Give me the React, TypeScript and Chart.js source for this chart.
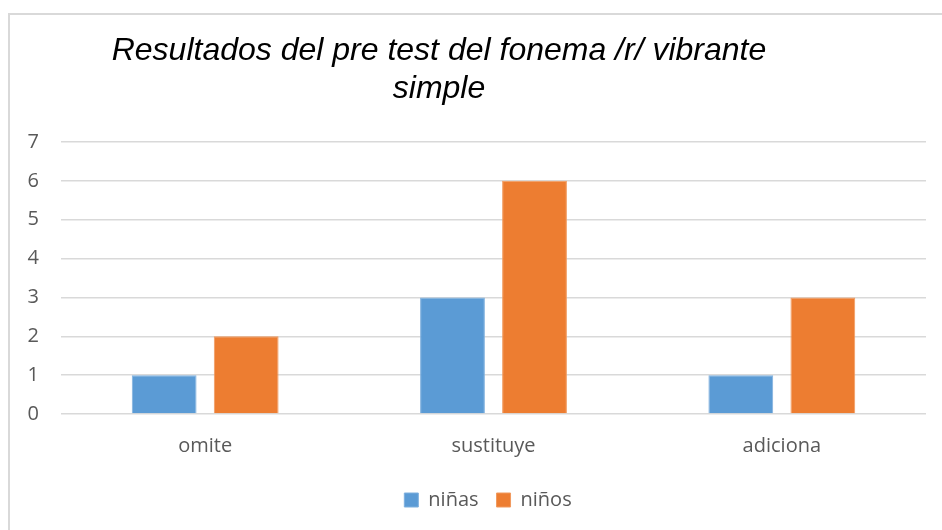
import React, { useEffect, useRef } from "react";
import { Chart, registerables } from "chart.js";

Chart.register(...registerables);

const titleLines = ["Resultados del pre test del fonema /r/ vibrante", "simple"];
const categories = ["omite", "sustituye", "adiciona"];
const seriesNames = ["niñas", "niños"];
const ninasValues = [1, 3, 1];
const ninosValues = [2, 6, 3];
const yTicks = [0, 1, 2, 3, 4, 5, 6, 7];

const FONT = "'Open Sans', 'DejaVu Sans', sans-serif";

const framePlugin = {
  id: "frameAndTitle",
  afterLayout(chart: any) {
    const lg = chart.legend;
    if (lg) {
      lg.left += 25;
      lg.right += 25;
    }
  },
  beforeDraw(chart: any) {
    const ctx = chart.ctx;
    ctx.save();
    ctx.fillStyle = "#ffffff";
    ctx.fillRect(0, 0, chart.width, chart.height);
    ctx.strokeStyle = "#d9d9d9";
    ctx.lineWidth = 2;
    ctx.beginPath();
    ctx.moveTo(9, chart.height + 2);
    ctx.lineTo(9, 14);
    ctx.lineTo(chart.width + 2, 14);
    ctx.stroke();
    ctx.restore();
  },
  afterDraw(chart: any) {
    const ctx = chart.ctx;
    ctx.save();
    ctx.fillStyle = "#000000";
    ctx.font = "italic 32px 'Liberation Sans', Arial, sans-serif";
    ctx.textAlign = "center";
    ctx.textBaseline = "middle";
    const cx = 439;
    titleLines.forEach((line, i) => {
      ctx.fillText(line, cx, 51 + i * 38);
    });
    ctx.restore();
  },
};

export default function App() {
  const ref = useRef<HTMLCanvasElement | null>(null);
  useEffect(() => {
    if (!ref.current) return;
    const chart = new Chart(ref.current, {
      type: "bar",
      data: {
        labels: categories,
        datasets: [
          {
            label: seriesNames[0],
            data: ninasValues,
            backgroundColor: "#5B9BD5",
            borderColor: "#7fb0de",
            borderWidth: 1,
            categoryPercentage: 0.569,
            barPercentage: 0.79,
          },
          {
            label: seriesNames[1],
            data: ninosValues,
            backgroundColor: "#ED7D31",
            borderColor: "#f19a5e",
            borderWidth: 1,
            categoryPercentage: 0.569,
            barPercentage: 0.79,
          },
        ],
      },
      options: {
        animation: false,
        responsive: false,
        maintainAspectRatio: false,
        devicePixelRatio: 1,
        layout: { padding: { top: 142, right: 16, bottom: 10, left: 0 } },
        plugins: {
          title: { display: false },
          tooltip: { enabled: false },
          legend: {
            display: true,
            position: "bottom",
            labels: {
              boxWidth: 14,
              boxHeight: 14,
              padding: 18,
              color: "#595959",
              font: { family: FONT, size: 20 },
            },
          },
        },
        scales: {
          x: {
            grid: { display: false, drawTicks: false },
            border: { display: false },
            ticks: {
              color: "#595959",
              font: { family: FONT, size: 20 },
              padding: 20,
            },
            afterFit(scale: any) {
              scale.height = 58;
            },
          },
          y: {
            min: 0,
            max: 7,
            afterBuildTicks(scale: any) {
              scale.ticks = yTicks.map((v) => ({ value: v }));
            },
            grid: { color: "#d9d9d9", lineWidth: 1.5, drawTicks: false },
            border: { display: false },
            ticks: {
              color: "#595959",
              font: { family: FONT, size: 20 },
              padding: 22,
            },
            afterFit(scale: any) {
              scale.width = 61;
            },
          },
        },
      },
      plugins: [framePlugin],
    });
    return () => chart.destroy();
  }, []);
  return (
    <div style={{ position: "fixed", left: 0, top: 0, width: 942, height: 530 }}>
      <canvas ref={ref} width={942} height={530} style={{ width: 942, height: 530, display: "block" }} />
    </div>
  );
}
